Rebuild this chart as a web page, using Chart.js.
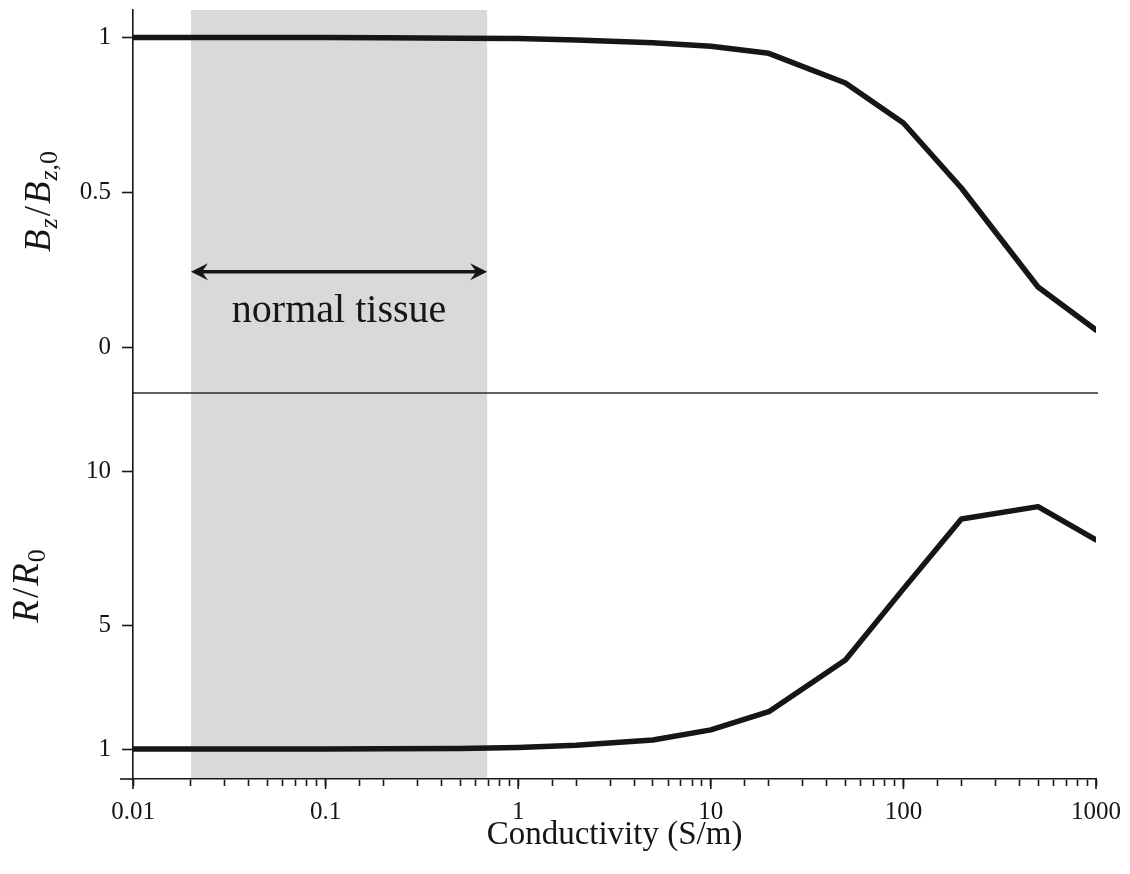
<!DOCTYPE html>
<html><head><meta charset="utf-8">
<script src="https://cdn.jsdelivr.net/npm/chart.js@4.4.1/dist/chart.umd.min.js"></script>
<style>html,body{margin:0;padding:0;background:#fff}#wrap{width:1130px;height:874px}</style>
</head><body><div id="wrap"><canvas id="c" width="1130" height="874"></canvas></div>
<script>
// ---- data ----
const conductivity = [0.01, 0.02, 0.05, 0.1, 0.2, 0.5, 1, 2, 5, 10, 20, 50, 100, 200, 500, 1000];
const bzRatio      = [1.0, 1.0, 1.0, 1.0, 0.999, 0.998, 0.997, 0.992, 0.983, 0.972, 0.949, 0.853, 0.724, 0.514, 0.194, 0.055];
const rRatio       = [1.0, 1.0, 1.0, 1.0, 1.01, 1.02, 1.05, 1.12, 1.29, 1.62, 2.21, 3.89, 6.2, 8.47, 8.87, 7.79];
const bzTicks = [0, 0.5, 1];
const rTicks = [1, 5, 10];
const tissueRange = [0.02, 0.69];
const tissueLabel = 'normal tissue';
const xTitle = 'Conductivity (S/m)';

// ---- styles ----
const SERIF = '"Liberation Serif", "Times New Roman", serif';
const INK = '#161616';
const ARROW_Y = 0.243;   // in top-panel units
const LABEL_Y = 0.08;

function fmtDecade(v) {
  const l = Math.round(Math.log10(v));
  return l >= 0 ? String(Math.round(v)) : v.toFixed(-l);
}
function isDecade(v) {
  const l = Math.log10(v);
  return Math.abs(l - Math.round(l)) < 1e-6;
}

function drawRotatedMath(ctx, runs, baseX, cy, size) {
  const sub = size * 0.7;
  const fontOf = r => (r.it ? 'italic ' : '') + (r.sub ? sub : size) + 'px ' + SERIF;
  let w = 0;
  const widths = runs.map(r => { ctx.font = fontOf(r); const m = ctx.measureText(r.t).width + (r.gap || 0); w += m; return m; });
  ctx.save();
  ctx.translate(baseX, cy);
  ctx.rotate(-Math.PI / 2);
  ctx.fillStyle = INK;
  ctx.textBaseline = 'alphabetic';
  ctx.textAlign = 'left';
  let x = -w / 2;
  runs.forEach((r, i) => {
    ctx.font = fontOf(r);
    ctx.fillText(r.t, x, r.sub ? size * 0.2 : 0);
    x += widths[i];
  });
  ctx.restore();
}

const decor = {
  id: 'decor',
  beforeDatasetsDraw(chart) {
    const {ctx, chartArea, scales: {x, y, y2}} = chart;
    const xl = x.getPixelForValue(tissueRange[0]);
    const xr = x.getPixelForValue(tissueRange[1]);
    ctx.save();
    ctx.fillStyle = '#d9d9d9';
    ctx.fillRect(xl, chartArea.top, xr - xl, chartArea.bottom - chartArea.top - 1);
    // separator between panels
    ctx.strokeStyle = '#2b2b2b';
    ctx.lineWidth = 1.5;
    ctx.beginPath();
    ctx.moveTo(chartArea.left, y2.top);
    ctx.lineTo(chartArea.right + 2, y2.top);
    ctx.stroke();
    // x axis line extends slightly left of the y axis
    ctx.strokeStyle = INK;
    ctx.lineWidth = 1.6;
    ctx.beginPath();
    ctx.moveTo(chartArea.left - 13, chartArea.bottom);
    ctx.lineTo(chartArea.left, chartArea.bottom);
    ctx.stroke();
    // double arrow
    const ay = y.getPixelForValue(ARROW_Y);
    ctx.fillStyle = INK;
    ctx.lineWidth = 3.5;
    ctx.beginPath();
    ctx.moveTo(xl + 8, ay);
    ctx.lineTo(xr - 8, ay);
    ctx.stroke();
    const head = (tip, dir) => {
      ctx.beginPath();
      ctx.moveTo(tip, ay);
      ctx.lineTo(tip + dir * 17, ay - 8.5);
      ctx.lineTo(tip + dir * 11, ay);
      ctx.lineTo(tip + dir * 17, ay + 8.5);
      ctx.closePath();
      ctx.fill();
    };
    head(xl, 1);
    head(xr, -1);
    // label
    const cx = x.getPixelForValue(Math.sqrt(tissueRange[0] * tissueRange[1]));
    ctx.font = '40px ' + SERIF;
    ctx.textAlign = 'center';
    ctx.textBaseline = 'alphabetic';
    ctx.fillText(tissueLabel, cx, y.getPixelForValue(LABEL_Y));
    ctx.restore();
  },
  afterDraw(chart) {
    const {ctx, scales: {x, y, y2}} = chart;
    ctx.save();
    // longer major ticks on x axis
    ctx.strokeStyle = INK;
    ctx.lineWidth = 1.6;
    x.ticks.forEach(t => {
      if (!isDecade(t.value)) return;
      const px = x.getPixelForValue(t.value);
      ctx.beginPath();
      ctx.moveTo(px, x.top);
      ctx.lineTo(px, x.top + 10);
      ctx.stroke();
    });
    ctx.restore();
    drawRotatedMath(ctx, [
      {t: 'B', it: true, gap: 1}, {t: 'z', it: true, sub: true, gap: 2}, {t: '/', gap: 2},
      {t: 'B', it: true, gap: 1}, {t: 'z', it: true, sub: true}, {t: ',0', sub: true}
    ], 50, (y.top + y.bottom) / 2, 37);
    drawRotatedMath(ctx, [
      {t: 'R', it: true, gap: 2}, {t: '/', gap: 2}, {t: 'R', it: true, gap: 1}, {t: '0', sub: true}
    ], 38, (y2.top + y2.bottom) / 2, 37);
  }
};

const tickFont = {family: SERIF, size: 25};
const yCommon = {
  type: 'linear',
  position: 'left',
  stack: 'panels',
  offset: false,
  border: {display: true, color: INK, width: 1.6},
  grid: {drawOnChartArea: false, drawTicks: true, tickLength: 11, tickColor: INK, tickWidth: 1.6},
  ticks: {font: tickFont, color: INK, padding: 11, callback: v => String(v)},
  afterFit: s => { s.width = 133; s.paddingTop = 0; s.paddingBottom = 0; }
};

new Chart(document.getElementById('c'), {
  type: 'line',
  data: {
    datasets: [
      {data: conductivity.map((c, i) => ({x: c, y: bzRatio[i]})), yAxisID: 'y'},
      {data: conductivity.map((c, i) => ({x: c, y: rRatio[i]})), yAxisID: 'y2'}
    ]
  },
  options: {
    responsive: false,
    animation: false,
    layout: {padding: {left: 0, right: 34, top: 10, bottom: 0}},
    elements: {
      line: {borderColor: INK, borderWidth: 5.5, tension: 0, borderJoinStyle: 'round', borderCapStyle: 'round', fill: false},
      point: {radius: 0, hoverRadius: 0}
    },
    plugins: {legend: {display: false}, tooltip: {enabled: false}},
    scales: {
      x: {
        type: 'logarithmic',
        min: conductivity[0],
        max: conductivity[conductivity.length - 1],
        border: {display: true, color: INK, width: 1.6},
        grid: {drawOnChartArea: false, drawTicks: true, tickLength: 7, tickColor: INK, tickWidth: 1.6},
        ticks: {
          font: tickFont, color: INK, padding: 11, autoSkip: false, maxRotation: 0,
          callback: v => isDecade(v) ? fmtDecade(v) : ''
        },
        title: {display: true, text: xTitle, font: {family: SERIF, size: 33}, color: INK, padding: {top: 0, bottom: 19}},
        afterFit: s => { s.height = 95; s.paddingLeft = 0; s.paddingRight = 0; }
      },
      y: Object.assign({}, yCommon, {
        min: -0.1485, max: 1.089, stackWeight: 383, weight: 1,
        afterBuildTicks: s => { s.ticks = bzTicks.map(v => ({value: v})); }
      }),
      y2: Object.assign({}, yCommon, {
        min: 0.026, max: 12.56, stackWeight: 386, weight: 0,
        afterBuildTicks: s => { s.ticks = rTicks.map(v => ({value: v})); }
      })
    }
  },
  plugins: [decor]
});
</script>
</body></html>
